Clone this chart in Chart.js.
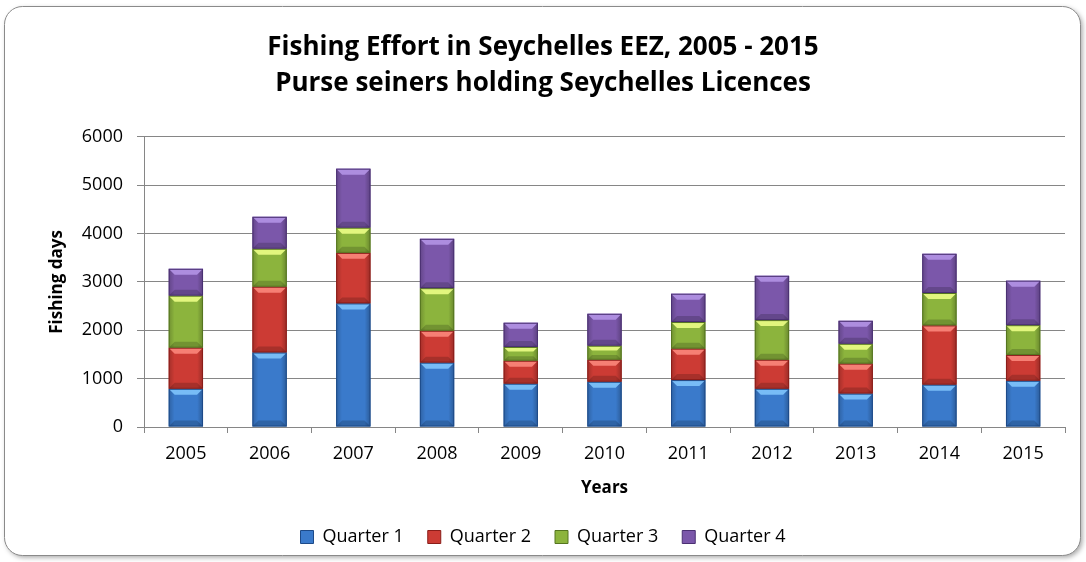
<!DOCTYPE html>
<html>
<head>
<meta charset="utf-8">
<script src="https://cdn.jsdelivr.net/npm/chart.js@4.4.1/dist/chart.umd.min.js"></script>
<style>
  html, body { margin: 0; padding: 0; background: #ffffff; }
  #wrap { width: 1086px; height: 562px; position: relative; }
</style>
</head>
<body>
<div id="wrap"><canvas id="c" width="1086" height="562"></canvas></div>
<script>
const years = ['2005','2006','2007','2008','2009','2010','2011','2012','2013','2014','2015'];
const quarter1 = [790, 1540, 2555, 1330, 895, 935, 970, 790, 690, 875, 955];
const quarter2 = [850, 1360, 1045, 660, 475, 455, 650, 600, 620, 1225, 535];
const quarter3 = [1075, 785, 520, 880, 285, 290, 550, 820, 410, 670, 615];
const quarter4 = [555, 660, 1220, 1020, 500, 660, 585, 915, 475, 810, 920];
const seriesNames = ['Quarter 1', 'Quarter 2', 'Quarter 3', 'Quarter 4'];
const titleLines = ['Fishing Effort in Seychelles EEZ, 2005 - 2015', 'Purse seiners holding Seychelles Licences'];
const yTicks = [0, 1000, 2000, 3000, 4000, 5000, 6000];

const fills = ['#3a7acb', '#cc3b34', '#8cb43d', '#7b57aa'];
const lights = ['#78bcf6', '#f67f74', '#e2f67e', '#ad8ddf'];
const darks = ['#1d4a88', '#8a1d19', '#557520', '#4a3072'];

const FONT = "'Open Sans', 'DejaVu Sans', sans-serif";

const framePlugin = {
  id: 'frame',
  beforeDraw(chart) {
    const ctx = chart.ctx;
    ctx.save();
    const x = 4.5, y = 6.5, w = 1076, h = 549, r = 18;
    ctx.shadowColor = 'rgba(0,0,0,0.35)';
    ctx.shadowBlur = 5;
    ctx.shadowOffsetX = 2;
    ctx.shadowOffsetY = 2;
    ctx.beginPath();
    ctx.roundRect(x, y, w, h, r);
    ctx.fillStyle = '#ffffff';
    ctx.fill();
    ctx.shadowColor = 'transparent';
    ctx.lineWidth = 1;
    ctx.strokeStyle = '#8a8a8a';
    ctx.stroke();
    ctx.restore();
  }
};

const bevelPlugin = {
  id: 'bevel',
  afterDatasetsDraw(chart) {
    const ctx = chart.ctx;
    chart.data.datasets.forEach((ds, di) => {
      const meta = chart.getDatasetMeta(di);
      meta.data.forEach(bar => {
        const p = bar.getProps(['x', 'y', 'base', 'width'], true);
        const left = p.x - p.width / 2, right = p.x + p.width / 2;
        const top = Math.min(p.y, p.base), bottom = Math.max(p.y, p.base);
        const h = bottom - top;
        if (h <= 0) return;
        const b = Math.min(6, h / 3);
        ctx.save();
        ctx.beginPath();
        ctx.moveTo(left, top); ctx.lineTo(right, top);
        ctx.lineTo(right - b, top + b); ctx.lineTo(left + b, top + b); ctx.closePath();
        ctx.fillStyle = lights[di]; ctx.fill();
        const g = ctx.createLinearGradient(left, 0, right, 0);
        g.addColorStop(0, 'rgba(0,0,0,0.20)');
        g.addColorStop(0.17, 'rgba(0,0,0,0)');
        g.addColorStop(0.83, 'rgba(0,0,0,0)');
        g.addColorStop(1, 'rgba(0,0,0,0.25)');
        ctx.beginPath();
        ctx.moveTo(left, top); ctx.lineTo(left + b, top + b); ctx.lineTo(right - b, top + b);
        ctx.lineTo(right, top); ctx.lineTo(right, bottom); ctx.lineTo(left, bottom); ctx.closePath();
        ctx.fillStyle = g; ctx.fill();
        ctx.beginPath();
        ctx.moveTo(left, bottom); ctx.lineTo(right, bottom);
        ctx.lineTo(right - b, bottom - b); ctx.lineTo(left + b, bottom - b); ctx.closePath();
        ctx.fillStyle = 'rgba(0,0,0,0.18)'; ctx.fill();
        ctx.strokeStyle = darks[di]; ctx.lineWidth = 1;
        ctx.strokeRect(left + 0.5, top + 0.5, right - left - 1, h - 1);
        ctx.restore();
      });
    });
  }
};

const datasets = [quarter1, quarter2, quarter3, quarter4].map((arr, i) => ({
  label: seriesNames[i],
  data: arr,
  backgroundColor: fills[i],
  borderWidth: 0,
  barPercentage: 0.41,
  categoryPercentage: 1.0,
  yAxisID: 'y'
}));

new Chart(document.getElementById('c'), {
  type: 'bar',
  data: { labels: years, datasets },
  plugins: [framePlugin, bevelPlugin],
  options: {
    responsive: false,
    animation: false,
    layout: { padding: { left: 0, right: 0, top: 0, bottom: 6 } },
    plugins: {
      title: {
        display: true,
        text: titleLines,
        color: '#000000',
        font: { family: FONT, size: 26, weight: 'bold', lineHeight: 1.38 },
        padding: { top: 30, bottom: 35 }
      },
      legend: {
        position: 'bottom',
        labels: {
          color: '#000000',
          font: { family: FONT, size: 18 },
          boxWidth: 13,
          boxHeight: 13,
          padding: 24,
          generateLabels(chart) {
            return chart.data.datasets.map((ds, i) => ({
              text: ds.label,
              fillStyle: fills[i],
              strokeStyle: darks[i],
              lineWidth: 1,
              datasetIndex: i,
              fontColor: '#000000'
            }));
          }
        }
      },
      tooltip: { enabled: false }
    },
    scales: {
      x: {
        stacked: true,
        afterFit(scale) { scale.height = 77; },
        grid: {
          offset: true,
          drawOnChartArea: false,
          drawTicks: true,
          tickLength: 6,
          color: '#868686'
        },
        border: { color: '#868686', width: 1 },
        ticks: { color: '#000000', font: { family: FONT, size: 18 }, padding: 10, maxRotation: 0 },
        title: {
          display: true,
          text: 'Years',
          color: '#000000',
          font: { family: FONT, size: 17, weight: 'bold' },
          padding: { top: 0, bottom: 6 }
        }
      },
      y: {
        stacked: true,
        min: 0,
        max: 6000,
        afterFit(scale) { scale.width = 144; },
        afterBuildTicks(scale) { scale.ticks = yTicks.map(v => ({ value: v })); },
        grid: {
          color: '#868686',
          tickLength: 7,
          drawTicks: true
        },
        border: { color: '#868686', width: 1 },
        ticks: {
          color: '#000000',
          font: { family: FONT, size: 18 },
          padding: 14,
          callback: v => String(v)
        },
        title: {
          display: true,
          text: 'Fishing days',
          color: '#000000',
          font: { family: FONT, size: 17, weight: 'bold' },
          padding: { top: 47, bottom: 0 }
        }
      },
      yRightSpace: {
        position: 'right',
        display: true,
        min: 0,
        max: 6000,
        afterFit(scale) { scale.width = 21; },
        grid: { display: false, drawTicks: false },
        border: { display: false },
        ticks: { display: false }
      }
    }
  }
});
</script>
</body>
</html>
